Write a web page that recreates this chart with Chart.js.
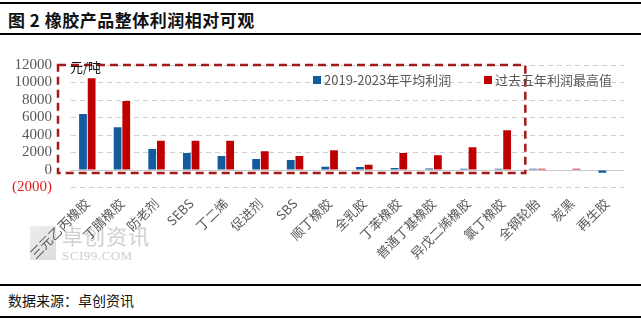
<!DOCTYPE html>
<html>
<head>
<meta charset="utf-8">
<script src="https://cdn.jsdelivr.net/npm/chart.js@4/dist/chart.umd.min.js"></script>
<style>
  html,body{margin:0;padding:0;background:#fff;width:641px;height:323px;overflow:hidden;font-family:"Noto Sans CJK SC","Noto Sans",sans-serif;}
  .line{position:absolute;left:0;width:641px;height:2px;background:#000;}
  #title{position:absolute;left:8px;top:7px;font-size:17px;font-weight:bold;color:#111;letter-spacing:0.5px;}
  #footer{position:absolute;left:8px;top:290px;font-size:14px;color:#111;}
  #chartWrap{position:absolute;left:0;top:35px;width:641px;height:248px;}
  #unit{position:absolute;left:70px;top:57px;font-size:13px;color:#111;}
  .leg{position:absolute;top:70px;font-size:13px;color:#595959;white-space:nowrap;}
  .sw{display:inline-block;width:8px;height:8px;margin-right:3px;vertical-align:1px;}
  #wm1{position:absolute;left:62px;top:220px;font-size:21px;color:#d0d0d0;letter-spacing:1px;}
  #wm2{position:absolute;left:62px;top:248px;font-size:13px;color:#d0d0d0;font-family:"Liberation Serif",serif;letter-spacing:0.5px;}
  #wmlogo{position:absolute;left:30px;top:226px;width:26px;height:34px;background:linear-gradient(135deg,#e2e2e2,#c4c4c4);opacity:0.6;}
</style>
</head>
<body>
<div class="line" style="top:2px"></div>
<div id="title">图 2  橡胶产品整体利润相对可观</div>
<div class="line" style="top:33px"></div>
<div id="wmlogo"></div>
<div id="wm1">卓创资讯</div>
<div id="wm2">SCI99.COM</div>
<div id="chartWrap"><canvas id="c" width="641" height="248"></canvas></div>
<div id="unit">元/吨</div>
<div class="leg" style="left:313px"><span class="sw" style="background:#125C9E"></span>2019-2023年平均利润</div>
<div class="leg" style="left:484px"><span class="sw" style="background:#C00000"></span>过去五年利润最高值</div>
<div class="line" style="top:284px"></div>
<div id="footer">数据来源：卓创资讯</div>
<div class="line" style="top:316px"></div>
<script>
const categories = ["三元乙丙橡胶","丁腈橡胶","防老剂","SEBS","丁二烯","促进剂","SBS","顺丁橡胶","全乳胶","丁苯橡胶","普通丁基橡胶","异戊二烯橡胶","氯丁橡胶","全钢轮胎","炭黑","再生胶"];
const avgProfit = [6400, 4900, 2400, 1950, 1600, 1250, 1150, 380, 350, 230, 180, 150, 150, 150, 0, -300];
const maxProfit = [10500, 7900, 3350, 3350, 3350, 2150, 1600, 2250, 600, 1950, 1700, 2600, 4550, 150, 150, 0];
const yTicks = [-2000, 0, 2000, 4000, 6000, 8000, 10000, 12000];
const seriesNames = ["2019-2023年平均利润", "过去五年利润最高值"];

const zeroLinePlugin = {
  id: 'zeroLine',
  beforeDatasetsDraw(chart) {
    const {ctx, chartArea, scales} = chart;
    const y0 = Math.round(scales.y.getPixelForValue(0)) + 0.5;
    ctx.save();
    ctx.strokeStyle = '#c8c8c8';
    ctx.lineWidth = 1;
    ctx.beginPath();
    ctx.moveTo(chartArea.left, y0);
    ctx.lineTo(chartArea.right, y0);
    ctx.stroke();
    ctx.restore();
  }
};

const boxPlugin = {
  id: 'box',
  afterDatasetsDraw(chart) {
    const {ctx, chartArea, scales} = chart;
    const x = scales.x, y = scales.y;
    const left = chartArea.left - 12;
    const right = x.getPixelForValue(12.65);
    const top = y.getPixelForValue(12000);
    const bottom = y.getPixelForValue(-350);
    ctx.save();
    ctx.strokeStyle = '#A31A1A';
    ctx.lineWidth = 2.5;
    ctx.setLineDash([8, 5]);
    ctx.strokeRect(left, top, right - left, bottom - top);
    ctx.restore();
  }
};

new Chart(document.getElementById('c'), {
  type: 'bar',
  data: {
    labels: categories,
    datasets: [
      {label: seriesNames[0], data: avgProfit, backgroundColor: '#125C9E', categoryPercentage: 0.5, barPercentage: 0.9},
      {label: seriesNames[1], data: maxProfit, backgroundColor: '#C00000', categoryPercentage: 0.5, barPercentage: 0.9}
    ]
  },
  options: {
    responsive: false,
    animation: false,
    layout: {padding: {top: 30, right: 17, left: 0, bottom: 0}},
    plugins: {legend: {display: false}, tooltip: {enabled: false}},
    scales: {
      x: {
        grid: {display: false},
        border: {display: false},
        ticks: {
          autoSkip: false, maxRotation: 45, minRotation: 45, padding: 0,
          color: '#595959', font: {family: '"Noto Sans CJK SC"', size: 13}
        },
        afterFit(s) { s.height = 95.5; }
      },
      y: {
        min: -2000, max: 12000,
        afterBuildTicks(s) { s.ticks = yTicks.map(v => ({value: v})); },
        grid: {
          drawTicks: false,
          color: ctx => ctx.tick && ctx.tick.value === 0 ? 'rgba(0,0,0,0)' : '#cfcfcf'
        },
        border: {display: true, color: 'rgba(0,0,0,0)', dash: [5, 4]},
        ticks: {
          autoSkip: false,
          padding: 18,
          color: ctx => ctx.tick.value < 0 ? '#E0201B' : '#595959',
          font: {family: '"Liberation Serif", serif', size: 15},
          callback: v => v < 0 ? '(' + Math.abs(v) + ')' : String(v)
        },
        afterFit(s) { s.width = 70; }
      }
    }
  },
  plugins: [zeroLinePlugin, boxPlugin]
});
</script>
</body>
</html>
